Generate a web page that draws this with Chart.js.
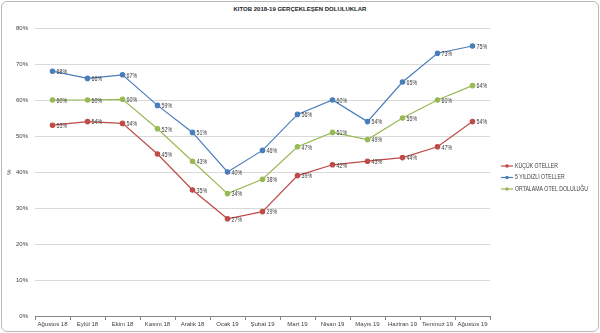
<!DOCTYPE html>
<html>
<head>
<meta charset="utf-8">
<script src="https://cdn.jsdelivr.net/npm/chart.js@4"></script>
<style>
  html, body { margin: 0; padding: 0; background: #fff; }
  #wrap { position: relative; width: 600px; height: 333px; }
  #frame { position: absolute; left: 1px; top: 1px; width: 596px; height: 329px; border: 1px solid #b8b8b8; border-radius: 6px; }
  #title { position: absolute; left: 0; width: 600px; top: 6px; text-align: center; font: bold 6px "Liberation Sans", Arial, sans-serif; color: #222; }
  canvas { position: absolute; left: 0; top: 0; }
</style>
</head>
<body>
<div id="wrap">
  <div id="frame"></div>
  <div id="title">KITOB 2018-19 GERÇEKLEŞEN DOLULUKLAR</div>
  <canvas id="occChart" width="600" height="333"></canvas>
</div>
<script>
// Months on the x axis
const months = ['Ağustos 18', 'Eylül 18', 'Ekim 18', 'Kasım 18', 'Aralık 18', 'Ocak 19', 'Şubat 19',
    'Mart 19', 'Nisan 19', 'Mayıs 19', 'Haziran 19', 'Temmuz 19', 'Ağustos 19'];

// Occupancy rates (%)
const smallHotels = [53, 54, 53.5, 45, 35, 27, 29, 39, 42, 43, 44, 47, 54];
const fiveStar = [68, 66, 67, 58.5, 51, 40, 46, 56, 60, 54, 65, 73, 75];
const average = [60, 60, 60.2, 52, 43, 34, 38, 47, 51, 49, 55, 60, 64];

const seriesNames = ['KÜÇÜK OTELLER', '5 YILDIZLI OTELLER', 'ORTALAMA OTEL DOLULUĞU'];

const colors = {
    red: '#be4b48',
    blue: '#4a7ebb',
    green: '#98b954'
};

const fontFamily = '"Liberation Sans", Arial, sans-serif';
const textColor = '#404040';
const squeeze = 0.82; // narrow the text a bit, closer to Calibri

// value labels next to each point
const pointLabels = {
    id: 'pointLabels',
    afterDatasetsDraw(chart) {
        const ctx = chart.ctx;
        ctx.save();
        ctx.font = '6.5px ' + fontFamily;
        ctx.fillStyle = textColor;
        ctx.textAlign = 'left';
        ctx.textBaseline = 'middle';
        chart.data.datasets.forEach(function(ds, i) {
            chart.getDatasetMeta(i).data.forEach(function(pt, j) {
                ctx.save();
                ctx.translate(pt.x + 4, pt.y + 1);
                ctx.scale(squeeze, 1);
                ctx.fillText(Math.round(ds.data[j]) + '%', 0, 0);
                ctx.restore();
            });
        });
        ctx.restore();
    }
};

// Excel style legend: line with marker
const sideLegend = {
    id: 'sideLegend',
    afterDraw(chart) {
        const ctx = chart.ctx;
        const x0 = 501, y0 = 166, gap = 11.5;
        ctx.save();
        ctx.font = '6.3px ' + fontFamily;
        ctx.textBaseline = 'middle';
        chart.data.datasets.forEach(function(ds, i) {
            const y = y0 + i * gap;
            ctx.strokeStyle = ds.borderColor;
            ctx.lineWidth = 1.2;
            ctx.beginPath();
            ctx.moveTo(x0, y);
            ctx.lineTo(x0 + 12, y);
            ctx.stroke();
            ctx.fillStyle = ds.borderColor;
            ctx.beginPath();
            ctx.arc(x0 + 6, y, 1.8, 0, Math.PI * 2);
            ctx.fill();
            ctx.fillStyle = textColor;
            ctx.save();
            ctx.translate(x0 + 14, y);
            ctx.scale(squeeze, 1);
            ctx.fillText(ds.label, 0, 0);
            ctx.restore();
        });
        ctx.restore();
    }
};

function lineSet(label, data, color) {
    return {
        label: label,
        data: data,
        borderColor: color,
        backgroundColor: color,
        borderWidth: 1.2,
        pointRadius: 2.2,
        pointHoverRadius: 2.2,
        tension: 0
    };
}

new Chart(document.getElementById('occChart').getContext('2d'), {
    type: 'line',
    data: {
        labels: months,
        datasets: [
            lineSet(seriesNames[0], smallHotels, colors.red),
            lineSet(seriesNames[1], fiveStar, colors.blue),
            lineSet(seriesNames[2], average, colors.green)
        ]
    },
    options: {
        responsive: false,
        animation: false,
        layout: {
            padding: { left: 0, right: 110, top: 28, bottom: 3 }
        },
        plugins: {
            legend: { display: false },
            tooltip: { enabled: false }
        },
        scales: {
            x: {
                offset: true,
                grid: {
                    offset: true,
                    drawOnChartArea: false,
                    drawTicks: true,
                    tickLength: 4,
                    color: '#868686'
                },
                border: { color: '#868686', width: 1 },
                ticks: {
                    color: textColor,
                    font: { size: 6, family: fontFamily },
                    maxRotation: 0,
                    autoSkip: false,
                    padding: 1
                },
                afterFit: function(scale) { scale.height = 14; }
            },
            y: {
                min: 0,
                max: 80,
                ticks: {
                    stepSize: 10,
                    color: textColor,
                    font: { size: 6, family: fontFamily },
                    padding: 7,
                    callback: function(v) { return v + '%'; }
                },
                grid: { color: '#d9d9d9', drawTicks: false },
                border: { display: false },
                title: {
                    display: true,
                    text: '%',
                    color: textColor,
                    font: { size: 6, family: fontFamily },
                    padding: { top: 6, bottom: 0 }
                },
                afterFit: function(scale) { scale.width = 35; }
            }
        }
    },
    plugins: [pointLabels, sideLegend]
});
</script>
</body>
</html>
